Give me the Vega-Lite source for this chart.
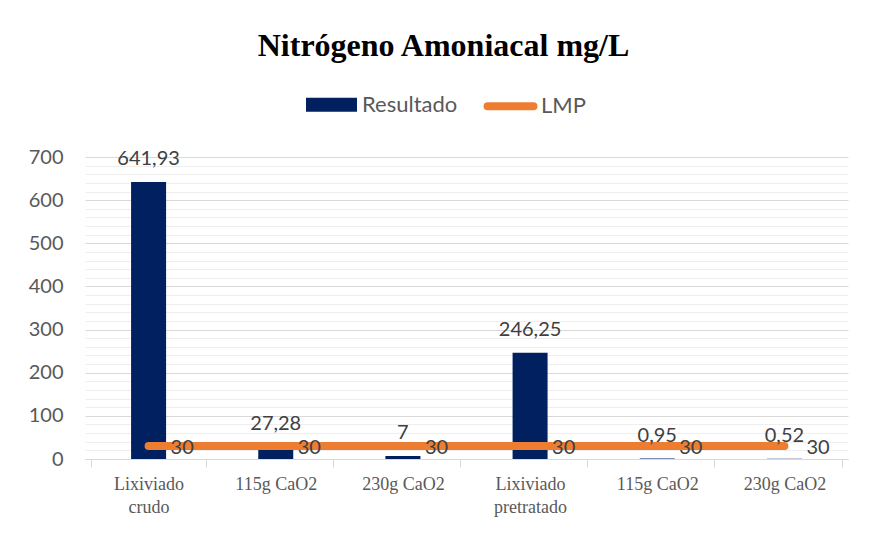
{
  "$schema": "https://vega.github.io/schema/vega-lite/v6.json",
  "width": 763,
  "height": 302,
  "autosize": {"type": "none"},
  "padding": {"left": 85, "top": 157, "right": 29, "bottom": 75},
  "background": "white",
  "title": {
    "text": "Nitrógeno Amoniacal mg/L",
    "font": "Liberation Serif",
    "fontSize": 32,
    "fontWeight": "bold",
    "color": "#000000",
    "anchor": "middle",
    "frame": "group",
    "dx": -23,
    "offset": 12
  },
  "config": {
    "locale": {"number": {"decimal": ",", "thousands": ".", "grouping": [3], "currency": ["$", ""]}},
    "view": {"stroke": null},
    "axis": {"labelFont": "Lato", "labelColor": "#595959", "titleFont": "Lato"}
  },
  "data": {
    "values": [
      {"cat": "Lixiviado|crudo", "resultado": 641.93, "lmp": 30},
      {"cat": "115g CaO2", "resultado": 27.28, "lmp": 30},
      {"cat": "230g CaO2", "resultado": 7, "lmp": 30},
      {"cat": "Lixiviado|pretratado", "resultado": 246.25, "lmp": 30},
      {"cat": "115g CaO2 ", "resultado": 0.95, "lmp": 30},
      {"cat": "230g CaO2 ", "resultado": 0.52, "lmp": 30}
    ]
  },
  "encoding": {
    "x": {
      "field": "cat",
      "type": "nominal",
      "sort": null,
      "title": null,
      "axis": {
        "labelAngle": 0,
        "labelExpr": "split(trim(datum.label), '|')",
        "labelFont": "Liberation Serif",
        "labelFontSize": 18,
        "labelColor": "#595959",
        "labelLineHeight": 23,
        "labelPadding": 8,
        "tickBand": "extent",
        "tickSize": 8,
        "tickColor": "#d9d9d9",
        "domainColor": "#d9d9d9",
        "domainWidth": 1,
        "grid": false
      }
    }
  },
  "layer": [
    {
      "mark": {"type": "bar", "width": 35},
      "encoding": {
        "y": {
          "field": "resultado",
          "type": "quantitative",
          "scale": {"domain": [0, 700], "nice": false},
          "title": null,
          "axis": {
            "values": [0, 100, 200, 300, 400, 500, 600, 700],
            "labelFontSize": 20,
            "labelPadding": 22,
            "ticks": false,
            "domain": false,
            "grid": true,
            "gridColor": "#d9d9d9",
            "gridWidth": 1
          }
        },
        "color": {
          "datum": "Resultado",
          "type": "nominal",
          "scale": {"domain": ["Resultado", "LMP"], "range": ["#002060", "#ED7D31"]},
          "legend": {
            "orient": "none",
            "legendX": 217,
            "legendY": -82,
            "direction": "horizontal",
            "title": null,
            "labelFont": "Lato",
            "labelFontSize": 22,
            "labelColor": "#595959",
            "symbolSize": 2601,
            "symbolStrokeWidth": 8,
            "labelOffset": 1,
            "columnPadding": 13,
            "padding": 0,
            "encode": {
              "symbols": {
                "update": {
                  "shape": {"signal": "datum.value === 'LMP' ? 'M-0.9,0H0.9' : 'M-0.843,-0.118H0.843V0.118H-0.843Z'"},
                  "strokeWidth": {"value": 8},
                  "strokeCap": {"signal": "datum.value === 'LMP' ? 'round' : 'butt'"},
                  "strokeJoin": {"value": "miter"},
                  "opacity": {"value": 1}
                }
              }
            }
          }
        }
      }
    },
    {
      "mark": {"type": "line", "strokeWidth": 8, "strokeCap": "round"},
      "encoding": {
        "y": {
          "field": "lmp",
          "type": "quantitative",
          "scale": {"domain": [0, 700], "nice": false},
          "axis": {
            "orient": "right",
            "values": [20, 40, 60, 80, 120, 140, 160, 180, 220, 240, 260, 280, 320, 340, 360, 380, 420, 440, 460, 480, 520, 540, 560, 580, 620, 640, 660, 680],
            "labels": false,
            "ticks": false,
            "domain": false,
            "grid": true,
            "gridColor": "#eeeeee",
            "gridWidth": 1,
            "title": null
          }
        },
        "color": {"datum": "LMP", "type": "nominal"}
      }
    },
    {
      "mark": {"type": "text", "baseline": "alphabetic", "dy": -17, "font": "Lato", "fontSize": 20, "color": "#404040"},
      "encoding": {
        "y": {"field": "resultado", "type": "quantitative", "axis": null},
        "text": {"field": "resultado", "type": "quantitative", "format": ".2~f"}
      }
    },
    {
      "mark": {"type": "text", "align": "left", "baseline": "middle", "dx": 22, "dy": 2, "font": "Lato", "fontSize": 20, "color": "#404040"},
      "encoding": {
        "y": {"field": "lmp", "type": "quantitative", "axis": null},
        "text": {"field": "lmp", "type": "quantitative", "format": ".2~f"}
      }
    }
  ],
  "resolve": {"axis": {"y": "independent"}}
}
